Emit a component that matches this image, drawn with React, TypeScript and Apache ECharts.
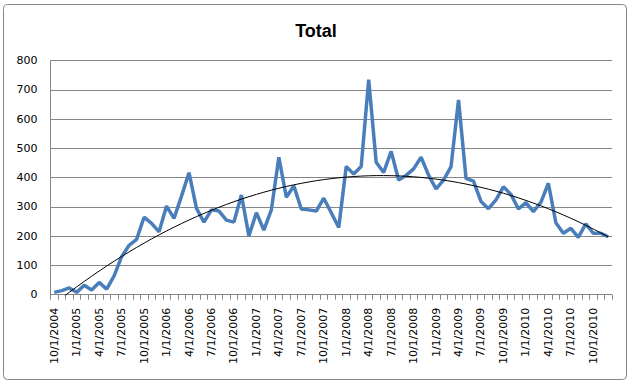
import React, { useEffect, useRef } from "react";
import * as echarts from "echarts";

const title = "Total";
const startYear = 2004;
const startMonth = 10;
const monthCount = 75;
const totals = [
  8, 14, 23, 8, 32, 16, 42, 19, 64, 130, 169, 189, 265, 244, 215, 303, 261, 337, 417, 295,
  248, 290, 286, 255, 248, 341, 201, 280, 221, 290, 470, 333, 372, 293, 290, 286, 330, 280,
  230, 438, 413, 438, 735, 453, 418, 490, 392, 408, 430, 470, 409, 362, 392, 438, 666, 398,
  388, 319, 294, 324, 369, 343, 293, 315, 284, 316, 381, 246, 210, 227, 196, 242, 210, 210, 198,
];
const yTicks = [0, 100, 200, 300, 400, 500, 600, 700, 800];

function buildCategories(): string[] {
  const out: string[] = [];
  let m = startMonth;
  let y = startYear;
  for (let i = 0; i < monthCount; i++) {
    out.push(`${m}/1/${y}`);
    m++;
    if (m > 12) {
      m = 1;
      y++;
    }
  }
  return out;
}

// Excel-style polynomial (order 2) trendline: least-squares fit of the data
function polyTrend(vals: number[]): number[] {
  const n = vals.length;
  let s0 = 0, s1 = 0, s2 = 0, s3 = 0, s4 = 0, t0 = 0, t1 = 0, t2 = 0;
  for (let i = 0; i < n; i++) {
    const x = i + 1;
    const v = vals[i];
    s0 += 1; s1 += x; s2 += x * x; s3 += x * x * x; s4 += x * x * x * x;
    t0 += v; t1 += x * v; t2 += x * x * v;
  }
  const M = [
    [s0, s1, s2, t0],
    [s1, s2, s3, t1],
    [s2, s3, s4, t2],
  ];
  for (let c = 0; c < 3; c++) {
    for (let r = c + 1; r < 3; r++) {
      const f = M[r][c] / M[c][c];
      for (let k = c; k < 4; k++) M[r][k] -= f * M[c][k];
    }
  }
  const coef = [0, 0, 0];
  for (let r = 2; r >= 0; r--) {
    let s = M[r][3];
    for (let k = r + 1; k < 3; k++) s -= M[r][k] * coef[k];
    coef[r] = s / M[r][r];
  }
  return vals.map((_, i) => {
    const x = i + 1;
    return coef[0] + coef[1] * x + coef[2] * x * x;
  });
}

export default function App() {
  const ref = useRef<HTMLDivElement>(null);
  useEffect(() => {
    if (!ref.current) return;
    const chart = echarts.init(ref.current, null, { renderer: "svg" });
    const categories = buildCategories();
    const trend = polyTrend(totals);
    const labelFont = "'DejaVu Sans', Verdana, sans-serif";
    chart.setOption({
      animation: false,
      backgroundColor: "#ffffff",
      title: {
        text: title,
        left: "center",
        top: 17,
        textStyle: {
          fontFamily: "'Liberation Sans', Arial, sans-serif",
          fontWeight: "bold",
          fontSize: 18,
          color: "#000000",
        },
      },
      graphic: [
        {
          type: "rect",
          shape: { x: 3.5, y: 4.5, width: 623, height: 375, r: 4 },
          style: { fill: "none", stroke: "#868686", lineWidth: 1 },
          silent: true,
        },
      ],
      grid: { left: 50.5, top: 60.7, right: 20, bottom: 90.3 },
      xAxis: {
        type: "category",
        data: categories,
        boundaryGap: true,
        axisLine: { lineStyle: { color: "#868686", width: 1 } },
        axisTick: { show: true, interval: 0, length: 5, lineStyle: { color: "#868686" } },
        axisLabel: {
          interval: 2,
          rotate: 90,
          margin: 13,
          fontFamily: labelFont,
          fontSize: 11,
          color: "#000000",
        },
        splitLine: { show: false },
      },
      yAxis: {
        type: "value",
        min: yTicks[0],
        max: yTicks[yTicks.length - 1],
        interval: 100,
        axisLine: { show: true, lineStyle: { color: "#868686", width: 1 } },
        axisTick: { show: false },
        axisLabel: {
          margin: 13,
          fontFamily: labelFont,
          fontSize: 11,
          color: "#000000",
        },
        splitLine: { lineStyle: { color: "#868686", width: 1 } },
      },
      series: [
        {
          name: "Total",
          type: "line",
          data: totals,
          symbol: "none",
          lineStyle: { color: "#4a7ebb", width: 3.5 },
          itemStyle: { color: "#4a7ebb" },
          z: 3,
        },
        {
          name: "Trend",
          type: "line",
          data: trend,
          symbol: "none",
          smooth: false,
          clip: true,
          lineStyle: { color: "#000000", width: 1 },
          z: 4,
        },
      ],
    });
    return () => chart.dispose();
  }, []);
  return (
    <div
      ref={ref}
      style={{ position: "fixed", left: 0, top: 0, width: 632, height: 385 }}
    />
  );
}
